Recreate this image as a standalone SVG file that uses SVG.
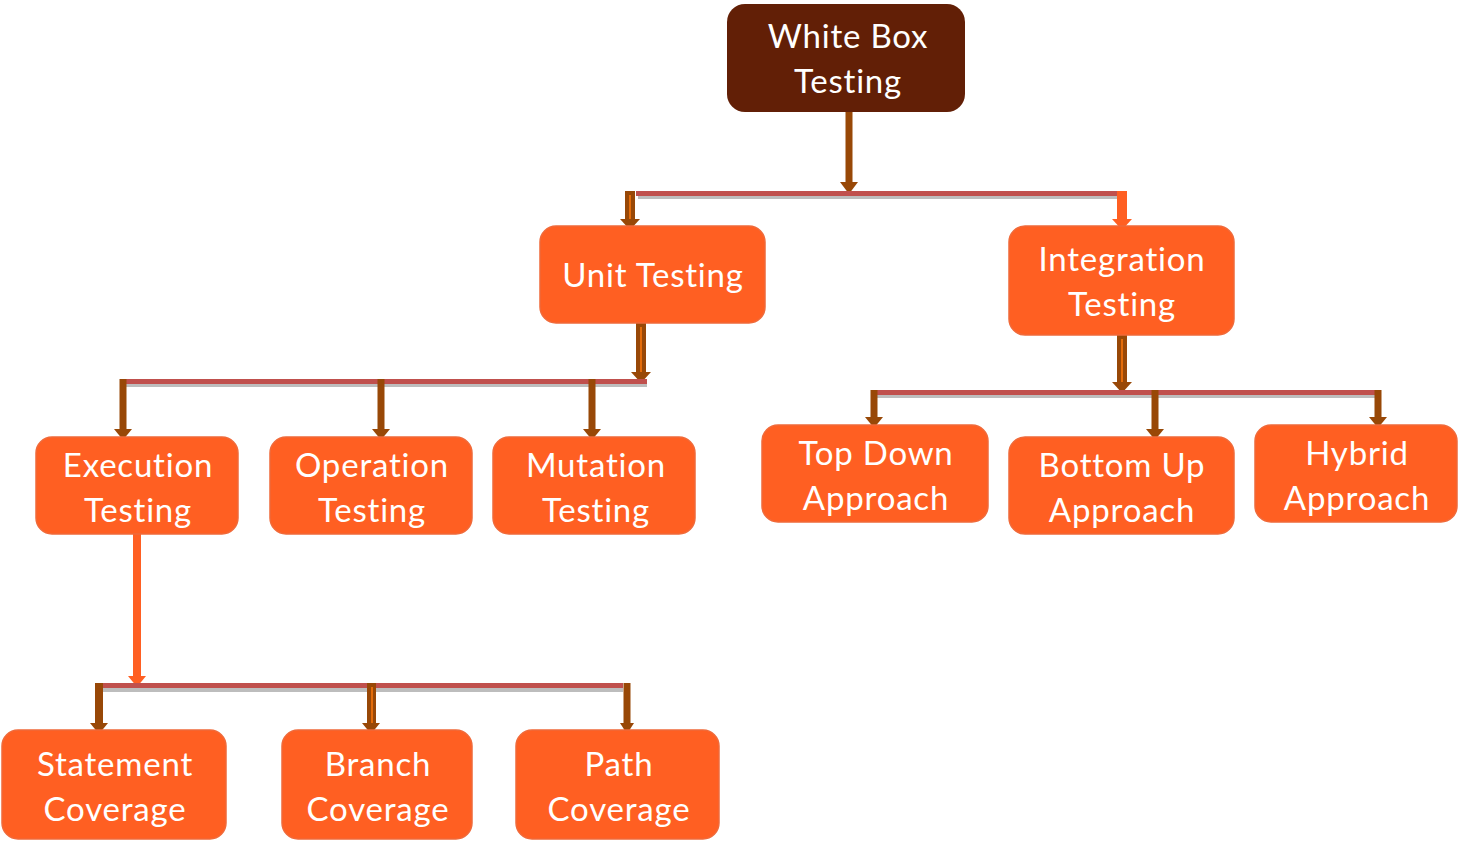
<svg xmlns="http://www.w3.org/2000/svg" width="1459" height="841" viewBox="0 0 1459 841">
<defs>
<style>
.node{fill:#FF5F22;stroke:#F06A3A;stroke-width:1.5}
.root{fill:#621F06}
.t{font-family:Lato,"Open Sans","Liberation Sans",sans-serif;font-size:33px;letter-spacing:0.8px;fill:#FFFFFF;text-anchor:middle}
.bar{fill:#C0504D}
.sh{fill:#BDBDBD}
.br{fill:#984807}
.or{fill:#FF5F22}
.in{fill:#E46C0A}
</style>
</defs>
<rect width="1459" height="841" fill="#FFFFFF"/>
<g id="connectors">
  <rect class="br" x="845.5" y="112" width="7" height="72"/>
  <polygon class="br" points="840,182 858,182 849,194"/>
  <rect class="sh" x="638" y="195" width="479" height="4"/>
  <rect class="bar" x="636" y="191" width="481" height="5"/>
  <rect class="br" x="625" y="191" width="10" height="30"/>
  <rect class="in" x="629" y="195" width="2" height="26"/>
  <polygon class="br" points="620,219 640,219 630,230"/>
  <rect class="or" x="1117" y="191" width="10" height="30"/>
  <polygon class="or" points="1112,219 1132,219 1122,230"/>
  <rect class="br" x="636" y="323" width="10" height="50"/>
  <rect class="in" x="640" y="327" width="2" height="46"/>
  <polygon class="br" points="631,372 651,372 641,383"/>
  <rect class="sh" x="122" y="383" width="525" height="4"/>
  <rect class="bar" x="120" y="379" width="527" height="5"/>
  <rect class="br" x="119.5" y="379" width="7" height="52"/>
  <polygon class="br" points="114,429 132,429 123,440"/>
  <rect class="br" x="377.5" y="379" width="7" height="52"/>
  <polygon class="br" points="372,429 390,429 381,440"/>
  <rect class="br" x="588.5" y="379" width="7" height="52"/>
  <polygon class="br" points="583,429 601,429 592,440"/>
  <rect class="br" x="1117" y="335" width="10" height="48"/>
  <rect class="in" x="1121" y="339" width="2" height="44"/>
  <polygon class="br" points="1112,382 1132,382 1122,393"/>
  <rect class="sh" x="874" y="394" width="505" height="4"/>
  <rect class="bar" x="872" y="390" width="507" height="5"/>
  <rect class="br" x="870.5" y="390" width="7" height="29"/>
  <polygon class="br" points="865,417 883,417 874,428"/>
  <rect class="br" x="1151.5" y="390" width="7" height="41"/>
  <polygon class="br" points="1146,429 1164,429 1155,440"/>
  <rect class="br" x="1374.5" y="390" width="7" height="29"/>
  <polygon class="br" points="1369,417 1387,417 1378,428"/>
  <rect class="or" x="133" y="534" width="8" height="143"/>
  <polygon class="or" points="128,676 146,676 137,687"/>
  <rect class="sh" x="97" y="688" width="526" height="4"/>
  <rect class="bar" x="95" y="683" width="528" height="5"/>
  <rect class="br" x="95" y="683" width="8" height="42"/>
  <polygon class="br" points="90,723 108,723 99,734"/>
  <rect class="br" x="367" y="683" width="9" height="42"/>
  <rect class="in" x="371" y="687" width="2" height="38"/>
  <polygon class="br" points="362,723 380,723 371,734"/>
  <rect class="br" x="623.5" y="683" width="7" height="42"/>
  <polygon class="br" points="620,723 634,723 627,734"/>
</g>
<g id="white-box-testing">
  <rect class="root" x="727" y="4" width="238" height="108" rx="18"/>
  <text class="t" x="848" y="48">White Box</text>
  <text class="t" x="848" y="93">Testing</text>
</g>
<g id="unit-testing">
  <rect class="node" x="540" y="226" width="225" height="97" rx="16"/>
  <text class="t" x="653" y="287">Unit Testing</text>
</g>
<g id="integration-testing">
  <rect class="node" x="1009" y="226" width="225" height="109" rx="16"/>
  <text class="t" x="1122" y="271">Integration</text>
  <text class="t" x="1122" y="316">Testing</text>
</g>
<g id="execution-testing">
  <rect class="node" x="36" y="437" width="202" height="97" rx="16"/>
  <text class="t" x="138" y="477">Execution</text>
  <text class="t" x="138" y="522">Testing</text>
</g>
<g id="operation-testing">
  <rect class="node" x="270" y="437" width="202" height="97" rx="16"/>
  <text class="t" x="372" y="477">Operation</text>
  <text class="t" x="372" y="522">Testing</text>
</g>
<g id="mutation-testing">
  <rect class="node" x="493" y="437" width="202" height="97" rx="16"/>
  <text class="t" x="596" y="477">Mutation</text>
  <text class="t" x="596" y="522">Testing</text>
</g>
<g id="top-down-approach">
  <rect class="node" x="762" y="425" width="226" height="97" rx="16"/>
  <text class="t" x="876" y="465">Top Down</text>
  <text class="t" x="876" y="510">Approach</text>
</g>
<g id="bottom-up-approach">
  <rect class="node" x="1009" y="437" width="225" height="97" rx="16"/>
  <text class="t" x="1122" y="477">Bottom Up</text>
  <text class="t" x="1122" y="522">Approach</text>
</g>
<g id="hybrid-approach">
  <rect class="node" x="1255" y="425" width="202" height="97" rx="16"/>
  <text class="t" x="1357" y="465">Hybrid</text>
  <text class="t" x="1357" y="510">Approach</text>
</g>
<g id="statement-coverage">
  <rect class="node" x="2" y="730" width="224" height="109" rx="16"/>
  <text class="t" x="115" y="776">Statement</text>
  <text class="t" x="115" y="821">Coverage</text>
</g>
<g id="branch-coverage">
  <rect class="node" x="282" y="730" width="190" height="109" rx="16"/>
  <text class="t" x="378" y="776">Branch</text>
  <text class="t" x="378" y="821">Coverage</text>
</g>
<g id="path-coverage">
  <rect class="node" x="516" y="730" width="203" height="109" rx="16"/>
  <text class="t" x="619" y="776">Path</text>
  <text class="t" x="619" y="821">Coverage</text>
</g>
</svg>
